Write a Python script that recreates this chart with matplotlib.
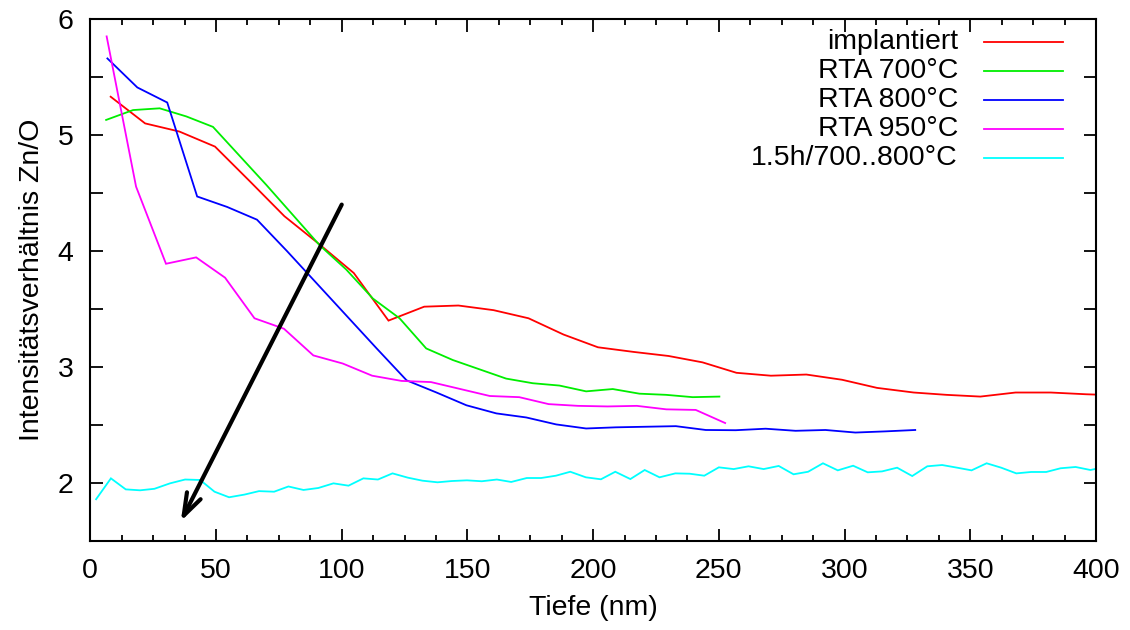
import matplotlib
matplotlib.use("Agg")
import matplotlib.pyplot as plt
from matplotlib.ticker import MultipleLocator, FuncFormatter
from matplotlib.lines import Line2D
from matplotlib.patches import FancyArrowPatch

plt.rcParams['font.family'] = ['Liberation Sans', 'DejaVu Sans']

# Depth profiles of the Zn/O intensity ratio
implantiert_x = [8.1, 21.8, 35.4, 49.6, 63.5, 77.2, 91.0, 104.8, 118.6, 132.8, 146.4,
                 160.4, 174.3, 188.2, 201.9, 216.1, 230.0, 243.5, 257.0, 270.7, 284.8,
                 299.0, 312.9, 327.5, 340.5, 354.0, 368.0, 382.0, 396.0, 409.8]
implantiert_y = [5.33, 5.10, 5.03, 4.90, 4.60, 4.30, 4.06, 3.81, 3.40, 3.52, 3.53,
                 3.49, 3.42, 3.28, 3.17, 3.13, 3.095, 3.04, 2.95, 2.925, 2.935,
                 2.89, 2.82, 2.78, 2.76, 2.745, 2.78, 2.78, 2.765, 2.755]

rta700_x = [6.3, 17.0, 27.6, 38.2, 48.8, 59.4, 70.0, 80.6, 91.2, 101.8, 112.4, 123.0,
            133.6, 144.2, 154.8, 165.4, 176.0, 186.6, 197.2, 207.8, 218.4, 229.0,
            239.6, 250.2]
rta700_y = [5.13, 5.215, 5.23, 5.16, 5.07, 4.82, 4.57, 4.31, 4.05, 3.84, 3.59, 3.42,
            3.16, 3.06, 2.98, 2.90, 2.86, 2.84, 2.79, 2.81, 2.77, 2.76, 2.74, 2.745]

rta800_x = [6.8, 18.7, 30.6, 42.5, 54.4, 66.3, 78.2, 90.1, 102.0, 113.9, 125.8, 137.7,
            149.6, 161.5, 173.4, 185.3, 197.2, 209.1, 221.0, 232.9, 244.8, 256.7,
            268.6, 280.5, 292.4, 304.3, 316.2, 328.1]
rta800_y = [5.66, 5.41, 5.28, 4.47, 4.38, 4.27, 4.00, 3.72, 3.44, 3.16, 2.885, 2.78,
            2.67, 2.60, 2.565, 2.505, 2.47, 2.48, 2.485, 2.49, 2.457, 2.455,
            2.468, 2.45, 2.457, 2.435, 2.445, 2.457]

rta950_x = [6.5, 18.2, 30.1, 42.1, 53.6, 65.3, 77.0, 88.7, 100.4, 112.1, 123.8, 135.5,
            147.2, 158.9, 170.6, 182.3, 194.0, 205.7, 217.4, 229.1, 240.8, 252.5]
rta950_y = [5.85, 4.555, 3.89, 3.945, 3.77, 3.42, 3.33, 3.10, 3.03, 2.925, 2.88, 2.87,
            2.81, 2.75, 2.74, 2.68, 2.665, 2.66, 2.665, 2.635, 2.63, 2.517]

ofen_x = [2.3, 8.2, 14.1, 19.8, 25.5, 31.7, 37.7, 43.7, 49.4, 55.2, 61.3, 67.1, 73.1,
          78.8, 84.8, 90.7, 96.7, 102.7, 108.6, 114.4, 120.2, 126.3, 132.1, 138.1,
          143.8, 149.8, 155.7, 161.7, 167.4, 173.6, 179.3, 185.2, 190.9, 197.1,
          203.1, 208.8, 214.8, 220.5, 226.4, 232.7, 238.4, 244.2, 250.0, 255.9,
          261.8, 267.8, 273.8, 279.7, 285.5, 291.4, 297.3, 303.4, 309.2, 314.9,
          320.9, 326.9, 332.9, 338.8, 344.8, 350.5, 356.5, 362.3, 368.3, 374.2,
          380.2, 385.9, 391.9, 397.8, 403.7]
ofen_y = [1.86, 2.04, 1.945, 1.937, 1.95, 1.997, 2.03, 2.026, 1.925, 1.877, 1.90, 1.93,
          1.925, 1.97, 1.94, 1.957, 1.997, 1.977, 2.04, 2.03, 2.083, 2.046, 2.02,
          2.006, 2.017, 2.023, 2.015, 2.03, 2.009, 2.043, 2.043, 2.063, 2.097,
          2.049, 2.032, 2.097, 2.034, 2.112, 2.049, 2.083, 2.08, 2.063, 2.135,
          2.12, 2.144, 2.12, 2.147, 2.075, 2.097, 2.17, 2.109, 2.149, 2.092,
          2.10, 2.132, 2.06, 2.144, 2.155, 2.132, 2.109, 2.17, 2.132, 2.083,
          2.095, 2.095, 2.127, 2.138, 2.112, 2.14]

series = [
    ("implantiert", implantiert_x, implantiert_y, "#ff0000"),
    ("RTA 700°C", rta700_x, rta700_y, "#00ee00"),
    ("RTA 800°C", rta800_x, rta800_y, "#0000ff"),
    ("RTA 950°C", rta950_x, rta950_y, "#ff00ff"),
    ("1.5h/700..800°C", ofen_x, ofen_y, "#00ffff"),
]

FS = 20.5

fig = plt.figure(figsize=(11.3, 6.3), dpi=100)
ax = fig.add_axes([90.3 / 1130, 1 - 541 / 630, (1096 - 90.3) / 1130, (541 - 19) / 630])

for label, xs, ys, color in series:
    ax.plot(xs, ys, color=color, lw=1.3, solid_joinstyle='miter')

ax.set_xlim(0, 400)
ax.set_ylim(1.5, 6)

ax.xaxis.set_major_locator(MultipleLocator(50))
ax.xaxis.set_minor_locator(MultipleLocator(12.5))
ax.yaxis.set_major_locator(MultipleLocator(0.5))
ax.yaxis.set_major_formatter(FuncFormatter(lambda v, p: f"{v:.0f}" if abs(v - round(v)) < 1e-6 else ""))

ax.tick_params(which='both', direction='in', top=True, right=True, width=1.3,
               labelsize=FS, pad=12)
ax.tick_params(which='major', length=9)
ax.tick_params(which='minor', length=4.5)
for sp in ax.spines.values():
    sp.set_linewidth(1.5)

ax.set_xlabel("Tiefe (nm)", fontsize=FS, labelpad=8)
ax.set_ylabel("Intensitätsverhältnis Zn/O", fontsize=FS, labelpad=9)

# Trend arrow
arrow = FancyArrowPatch((100, 4.40), (36, 1.67),
                        arrowstyle='->,head_length=1.6,head_width=0.55',
                        mutation_scale=10, lw=3, color='black',
                        shrinkA=0, shrinkB=0, zorder=5)
ax.add_patch(arrow)

# Key: right-aligned labels with line samples to their right
row0 = 0.9565
drow = 0.0556
for i, (label, xs, ys, color) in enumerate(series):
    yy = row0 - i * drow
    ax.text(0.8628, yy, label, transform=ax.transAxes, ha='right', va='center',
            fontsize=FS)
    ax.add_line(Line2D([0.8886, 0.9672], [yy, yy], transform=ax.transAxes,
                       color=color, lw=1.3))

fig.savefig("out.png", dpi=100)
